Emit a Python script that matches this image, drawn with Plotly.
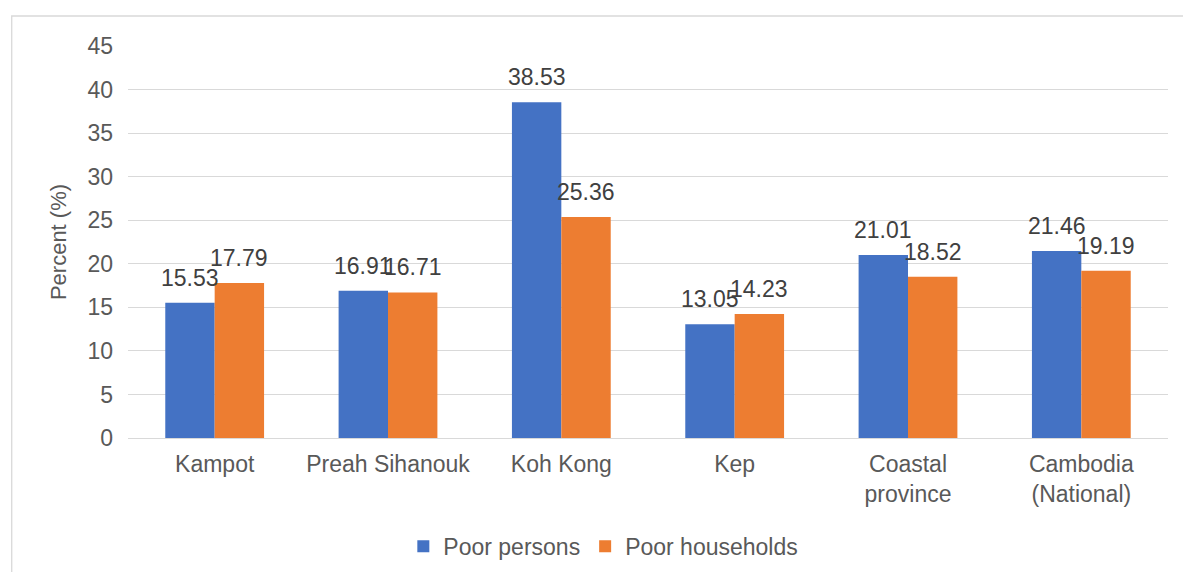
import plotly.graph_objects as go

# Poverty rates by area
categories = ["Kampot", "Preah Sihanouk", "Koh Kong", "Kep",
              "Coastal<br>province", "Cambodia<br>(National)"]
poor_persons = [15.53, 16.91, 38.53, 13.05, 21.01, 21.46]
poor_households = [17.79, 16.71, 25.36, 14.23, 18.52, 19.19]

series = [
    ("Poor persons", poor_persons, "#4472C4"),
    ("Poor households", poor_households, "#ED7D31"),
]

FONT = "Liberation Sans, Arial, sans-serif"
TICK_COLOR = "#595959"
LABEL_COLOR = "#404040"

BARGAP = 0.43
PLOT_W = 1040
cat_px = PLOT_W / len(categories)
bar_px = (1 - BARGAP) / len(series) * cat_px

fig = go.Figure()
for name, vals, color in series:
    fig.add_trace(go.Bar(
        x=categories, y=vals, name=name,
        marker=dict(color=color, line=dict(width=0)),
    ))

# value labels above each bar
annotations = []
for k, (name, vals, color) in enumerate(series):
    shift = (k - (len(series) - 1) / 2) * bar_px
    for cat, v in zip(categories, vals):
        annotations.append(dict(
            x=cat, y=v, xref="x", yref="y",
            text=f"{v:.2f}", showarrow=False,
            xshift=shift, yshift=10, yanchor="bottom", xanchor="center",
            font=dict(family=FONT, size=23, color=LABEL_COLOR),
        ))

fig.update_layout(
    width=1183, height=572,
    margin=dict(l=128, r=15, t=46, b=134),
    paper_bgcolor="white", plot_bgcolor="white",
    barmode="group", bargap=BARGAP, bargroupgap=0,
    font=dict(family=FONT, size=23, color=TICK_COLOR),
    annotations=annotations,
    showlegend=True,
    legend=dict(
        orientation="h", xref="container", yref="container",
        x=0.51, xanchor="center", y=0.045, yanchor="middle",
        font=dict(family=FONT, size=23, color=TICK_COLOR),
        itemsizing="constant", itemwidth=30,
    ),
    shapes=[dict(
        type="rect", xref="paper", yref="paper",
        x0=-0.1118, x1=1.03, y0=-0.4, y1=1.0765,
        line=dict(color="#d9d9d9", width=1.3), fillcolor="rgba(0,0,0,0)",
        layer="below",
    )],
)

fig.update_xaxes(
    showgrid=False, showline=False, zeroline=False, ticks="",
    tickfont=dict(family=FONT, size=23, color=TICK_COLOR),
    ticklabelstandoff=10,
)
fig.update_yaxes(
    range=[0, 45], dtick=5, tick0=0,
    showgrid=True, gridcolor="#d9d9d9", gridwidth=1.3,
    zeroline=True, zerolinecolor="#d9d9d9", zerolinewidth=1.3,
    showline=False, ticks="",
    tickfont=dict(family=FONT, size=23, color=TICK_COLOR),
    ticklabelstandoff=14,
    title=dict(text="Percent (%)", standoff=14,
               font=dict(family=FONT, size=22, color=TICK_COLOR)),
)

fig.write_html("out.html")
